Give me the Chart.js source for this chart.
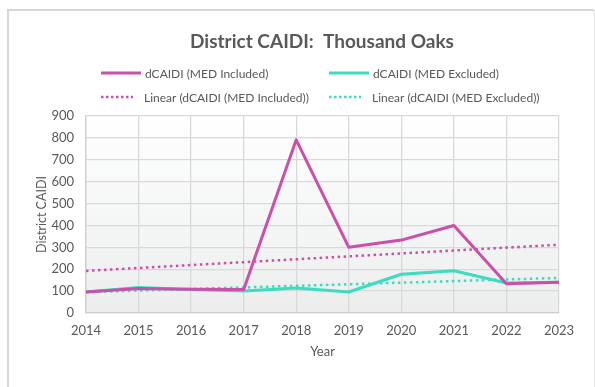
<!doctype html>
<html>

<head>
  <script src="https://cdn.jsdelivr.net/npm/chart.js@4/dist/chart.umd.min.js"></script>
  <style>
    body { margin: 0; background: #fff; }
    #wrap { width: 595px; height: 387px; }
  </style>
</head>

<body>
  <div id="wrap">
    <canvas id="canvas" width="595" height="387"></canvas>
  </div>
  <script>
    const years = ['2014', '2015', '2016', '2017', '2018', '2019', '2020', '2021', '2022', '2023'];
    const medIncluded = [96, 112, 109, 107, 791, 300, 333, 400, 134, 140];
    const medExcluded = [96, 116, 107, 101, 114, 96, 177, 193, 137, 141];
    const yTicks = [0, 100, 200, 300, 400, 500, 600, 700, 800, 900];

    const PINK = '#cc4fa9';
    const TEAL = '#3ddcbf';
    const GREY = '#595959';
    const FONT = 'Lato, "Open Sans", sans-serif';

    // least-squares trend line, same as the spreadsheet "Linear" trendline
    function linearTrend(values) {
      const n = values.length;
      const mx = (n - 1) / 2;
      const my = values.reduce((a, b) => a + b, 0) / n;
      let sxy = 0, sxx = 0;
      values.forEach((v, i) => { sxy += (i - mx) * (v - my); sxx += (i - mx) * (i - mx); });
      const slope = sxy / sxx;
      return values.map((v, i) => my + slope * (i - mx));
    }

    const legendItems = [
      { text: 'dCAIDI (MED Included)', color: PINK, dotted: false, col: 0, row: 0 },
      { text: 'dCAIDI (MED Excluded)', color: TEAL, dotted: false, col: 1, row: 0 },
      { text: 'Linear (dCAIDI (MED Included))', color: PINK, dotted: true, col: 0, row: 1 },
      { text: 'Linear (dCAIDI (MED Excluded))', color: TEAL, dotted: true, col: 1, row: 1 }
    ];

    // frame, plot gradient, title and the two-column legend
    const decor = {
      id: 'decor',
      beforeDraw(chart) {
        const ctx = chart.ctx;
        const a = chart.chartArea;
        ctx.save();
        ctx.fillStyle = '#fff';
        ctx.fillRect(0, 0, chart.width, chart.height);
        const g = ctx.createLinearGradient(0, a.top, 0, a.bottom);
        g.addColorStop(0, '#ffffff');
        g.addColorStop(1, '#eceeee');
        ctx.fillStyle = g;
        ctx.fillRect(a.left, a.top, a.right - a.left, a.bottom - a.top);
        ctx.restore();
      },
      afterDraw(chart) {
        const ctx = chart.ctx;
        ctx.save();
        // outer frame
        ctx.strokeStyle = '#d6d6d6';
        ctx.lineWidth = 2;
        ctx.beginPath();
        ctx.moveTo(8, chart.height);
        ctx.lineTo(8, 10);
        ctx.lineTo(594, 10);
        ctx.stroke();
        ctx.strokeStyle = '#e4e4e4';
        ctx.lineWidth = 1;
        ctx.beginPath();
        ctx.moveTo(594.5, 10);
        ctx.lineTo(594.5, chart.height);
        ctx.stroke();

        // title
        ctx.fillStyle = GREY;
        ctx.textAlign = 'center';
        ctx.textBaseline = 'middle';
        ctx.font = 'bold 19px ' + FONT;
        ctx.fillText('District CAIDI:  Thousand Oaks', 322, 42);

        // legend
        ctx.font = '12px ' + FONT;
        ctx.textAlign = 'left';
        const colX = [101, 329];
        const rowY = [73, 97];
        legendItems.forEach((it) => {
          const x = colX[it.col];
          const y = rowY[it.row];
          ctx.strokeStyle = it.color;
          if (it.dotted) {
            ctx.lineWidth = 2.5;
            ctx.setLineDash([2.5, 2.5]);
            ctx.beginPath();
            ctx.moveTo(x, y);
            ctx.lineTo(x + 32, y);
            ctx.stroke();
            ctx.setLineDash([]);
          } else {
            ctx.lineWidth = 3;
            ctx.beginPath();
            ctx.moveTo(x, y);
            ctx.lineTo(x + 40, y);
            ctx.stroke();
          }
          ctx.fillStyle = GREY;
          ctx.fillText(it.text, it.dotted ? x + 43 : x + 44, y + 1);
        });
        ctx.restore();
      }
    };

    new Chart(document.getElementById('canvas'), {
      type: 'line',
      data: {
        labels: years,
        datasets: [
          { label: 'dCAIDI (MED Included)', data: medIncluded, borderColor: PINK, borderWidth: 3 },
          { label: 'dCAIDI (MED Excluded)', data: medExcluded, borderColor: TEAL, borderWidth: 3 },
          { label: 'Linear (dCAIDI (MED Included))', data: linearTrend(medIncluded), borderColor: PINK, borderWidth: 2.5, borderDash: [2.5, 3.5] },
          { label: 'Linear (dCAIDI (MED Excluded))', data: linearTrend(medExcluded), borderColor: TEAL, borderWidth: 2.5, borderDash: [2.5, 3.5] }
        ]
      },
      options: {
        responsive: false,
        animation: false,
        events: [],
        elements: {
          point: { radius: 0 },
          line: { tension: 0, fill: false, borderJoinStyle: 'round' }
        },
        layout: { padding: { top: 116, right: 36, left: 0, bottom: 0 } },
        plugins: {
          legend: { display: false },
          title: { display: false },
          tooltip: { enabled: false }
        },
        scales: {
          x: {
            offset: false,
            afterFit: (s) => { s.height = 74; },
            grid: { color: '#d9d9d9', lineWidth: 1.3, drawTicks: false },
            border: { color: '#cfcfcf', width: 1.3 },
            ticks: { color: GREY, font: { family: FONT, size: 13 }, padding: 10, maxRotation: 0 },
            title: { display: true, text: 'Year', color: GREY, font: { family: FONT, size: 13 }, padding: { top: 4, bottom: 27 } }
          },
          y: {
            min: 0,
            max: 900,
            afterFit: (s) => { s.width = 86; },
            afterBuildTicks: (s) => { s.ticks = yTicks.map((v) => ({ value: v })); },
            grid: { color: '#d9d9d9', lineWidth: 1.3, drawTicks: false },
            border: { color: '#cfcfcf', width: 1.3 },
            ticks: { color: GREY, font: { family: FONT, size: 13 }, padding: 12 },
            title: { display: true, text: 'District CAIDI', color: GREY, font: { family: FONT, size: 12.5 }, padding: { top: 34, bottom: 0 } }
          }
        }
      },
      plugins: [decor]
    });
  </script>
</body>

</html>
